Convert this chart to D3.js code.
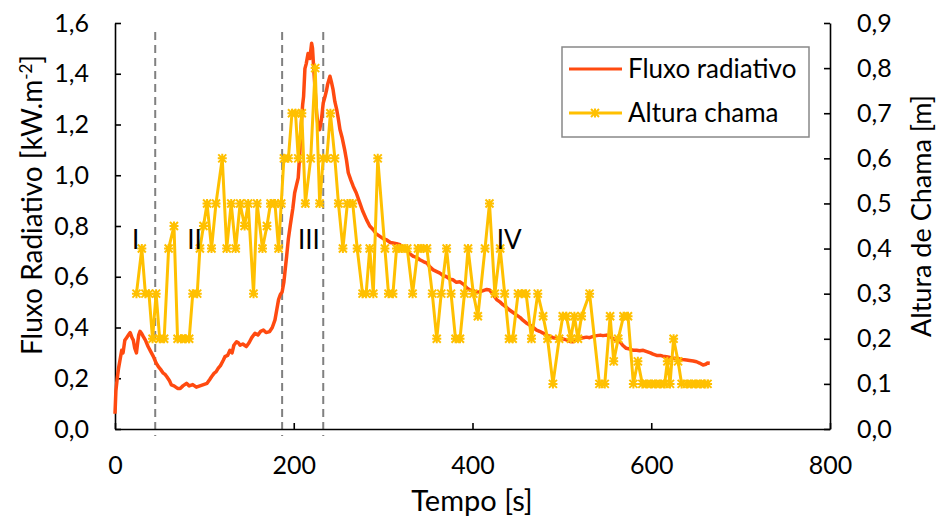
<!DOCTYPE html>
<html>
<head>
<meta charset="utf-8">
<title>Fluxo radiativo e altura de chama</title>
<script src="https://cdn.jsdelivr.net/npm/d3@7"></script>
<style>
  body { margin: 0; background: #fff; }
  svg text { font-family: Lato, "Open Sans", sans-serif; fill: #000; }
</style>
</head>
<body>
<svg id="chart" width="938" height="518"></svg>
<script>
// values: [tempo (s), valor]
const fluxoRadiativo = [
  [0,0.06],[1,0.15],[2.5,0.2],[4,0.24],[6,0.28],[7.5,0.31],[9,0.3],[11,0.35],[13,0.36],[15,0.37],
  [17,0.38],[19,0.36],[20.5,0.35],[22,0.32],[24,0.3],[25,0.33],[26.5,0.37],[28,0.385],[30,0.375],[31.7,0.364],
  [34,0.35],[37,0.325],[40,0.305],[43,0.285],[46,0.26],[48.5,0.246],[51,0.235],[54,0.22],[56,0.215],[58,0.206],
  [61,0.19],[63,0.174],[66,0.17],[70,0.16],[73,0.16],[76,0.17],[80,0.18],[83,0.17],[87,0.175],[91,0.165],
  [95,0.17],[99,0.175],[103,0.18],[106,0.195],[108,0.206],[111,0.22],[113,0.225],[115.6,0.24],[118,0.25],[121,0.27],
  [123,0.285],[126,0.29],[128.6,0.31],[131,0.3],[133,0.33],[136,0.344],[138,0.34],[140,0.33],[143,0.335],[147,0.325],
  [150,0.34],[153,0.36],[156.6,0.377],[160,0.37],[163,0.385],[166,0.39],[169,0.38],[173,0.384],[176,0.4],[179,0.43],
  [181,0.47],[183,0.51],[185,0.53],[187,0.54],[189,0.58],[190,0.614],[192,0.68],[194,0.75],[196,0.8],[197.6,0.837],
  [199,0.87],[201,0.93],[203,0.96],[205,0.99],[207,1.1],[208,1.18],[210,1.28],[211,1.31],[212.5,1.42],[214,1.44],
  [216,1.48],[218,1.46],[220,1.52],[221,1.5],[222,1.44],[224,1.33],[225.6,1.245],[227,1.2],[229,1.18],[231,1.22],
  [233,1.285],[235,1.31],[236.8,1.337],[238,1.36],[240.5,1.39],[242,1.37],[244,1.337],[246,1.29],[248,1.26],[250,1.22],
  [251.7,1.18],[254,1.15],[257,1.1],[259,1.06],[261,1.01],[264,0.98],[266.6,0.956],[270,0.93],[274,0.89],[277,0.86],
  [281.5,0.824],[285,0.8],[289,0.785],[292,0.77],[296,0.76],[300,0.75],[304,0.745],[308,0.735],[311,0.733],[315,0.73],
  [319,0.726],[323,0.715],[326,0.706],[330,0.69],[334,0.68],[338,0.675],[341,0.667],[345,0.66],[349,0.654],[352,0.64],
  [356,0.627],[360,0.62],[363.5,0.614],[367,0.605],[371,0.6],[375,0.59],[378,0.588],[382,0.578],[386,0.58],[390,0.57],
  [394,0.555],[397,0.548],[401,0.545],[404,0.54],[408,0.54],[412,0.545],[416,0.55],[419,0.548],[423,0.53],[427,0.51],
  [431,0.5],[434,0.49],[438,0.48],[441,0.47],[445,0.46],[449,0.45],[453,0.44],[456,0.43],[460.5,0.417],[464,0.41],
  [468,0.4],[471.7,0.39],[475,0.385],[479,0.378],[483,0.37],[487,0.365],[490,0.36],[494,0.358],[498,0.36],[501,0.355],
  [505,0.351],[509,0.345],[512.6,0.344],[516,0.35],[520,0.355],[524,0.36],[527.6,0.362],[531,0.36],[535,0.365],[539,0.368],
  [543,0.37],[546,0.368],[550,0.37],[554,0.364],[558,0.355],[561,0.351],[565,0.344],[568,0.33],[572,0.318],[576,0.315],
  [580,0.31],[583.6,0.31],[587,0.308],[591,0.31],[595,0.305],[599,0.3],[602,0.295],[606,0.29],[610,0.29],[613,0.287],
  [617,0.285],[621,0.282],[624,0.28],[628,0.279],[632,0.276],[635,0.274],[639.5,0.272],[643,0.27],[647,0.268],[650.7,0.265],
  [654,0.26],[658,0.252],[661,0.255],[663,0.26],[665.5,0.259]
];

const alturaChama = [
  [24,0.3],[30,0.4],[34,0.3],[38,0.3],[42,0.2],[46,0.3],[50,0.2],[55,0.2],[60,0.4],[66,0.45],
  [70,0.2],[74,0.2],[79,0.2],[83,0.2],[87,0.3],[92,0.3],[95,0.4],[99,0.45],[103,0.5],[108,0.4],
  [113,0.5],[120,0.6],[125,0.4],[130,0.5],[135,0.4],[140,0.5],[145,0.45],[149,0.5],[155,0.3],[159,0.5],
  [165,0.4],[170,0.45],[174,0.5],[179,0.5],[183,0.4],[186,0.5],[189,0.6],[194,0.6],[198,0.7],[202,0.7],
  [205,0.6],[209,0.7],[213,0.5],[219,0.6],[224,0.8],[229,0.5],[233,0.6],[237,0.6],[241,0.7],[246,0.6],
  [250,0.5],[255,0.4],[260,0.5],[266,0.5],[271,0.4],[277,0.3],[281,0.3],[285,0.4],[289,0.3],[294,0.6],
  [302,0.4],[306,0.3],[311,0.3],[315,0.4],[321,0.4],[327,0.4],[333,0.3],[339,0.4],[345,0.4],[349,0.4],
  [355,0.3],[360,0.2],[365,0.3],[371,0.4],[376,0.3],[381,0.2],[386,0.2],[391,0.3],[395,0.4],[401,0.3],
  [406,0.25],[414,0.4],[419,0.5],[425,0.3],[431,0.4],[436,0.3],[441,0.2],[445,0.2],[451,0.3],[455,0.3],
  [460,0.3],[466,0.2],[473,0.3],[479,0.25],[484,0.2],[490,0.1],[497,0.2],[501,0.25],[505,0.25],[510,0.2],
  [514,0.25],[518,0.2],[522,0.25],[531,0.3],[542,0.1],[548,0.1],[554,0.25],[558,0.15],[563,0.2],[569,0.25],
  [574,0.25],[580,0.1],[585,0.15],[590,0.1],[595,0.1],[600,0.1],[605,0.1],[610,0.1],[615,0.1],[618,0.15],
  [621,0.1],[625,0.2],[630,0.15],[634,0.1],[640,0.1],[645,0.1],[650,0.1],[655,0.1],[660,0.1],[663,0.1]
];

// phase boundaries (s) and phase labels
const limitesFase = [45, 187, 233];
const fases = ["I", "II", "III", "IV"];
const tempoFase = [23, 89, 217, 441];

const xTicks = [0, 200, 400, 600, 800];
const fluxoTicks = [0, 0.2, 0.4, 0.6, 0.8, 1.0, 1.2, 1.4, 1.6];
const alturaTicks = [0, 0.1, 0.2, 0.3, 0.4, 0.5, 0.6, 0.7, 0.8, 0.9];

const vermelho = "#ff4a10", amarelo = "#ffc000";

const svg = d3.select("#chart");
const plotLeft = 115, plotRight = 830, plotTop = 23, plotBottom = 429;

const x = d3.scaleLinear().domain([0, 800]).range([plotLeft, plotRight]);
const yFluxo = d3.scaleLinear().domain([0, 1.6]).range([plotBottom, plotTop]);
const yAltura = d3.scaleLinear().domain([0, 0.9]).range([plotBottom, plotTop]);
const virgula = f => s => d3.format(f)(s).replace(".", ",");

// dashed phase limits
svg.append("g")
  .selectAll("line")
  .data(limitesFase)
  .join("line")
    .attr("x1", d => x(d)).attr("x2", d => x(d))
    .attr("y1", yFluxo(1.565)).attr("y2", yFluxo(-0.028))
    .attr("stroke", "#808080")
    .attr("stroke-width", 2)
    .attr("stroke-dasharray", "8,5");

// axes
function estiloEixo(g) {
  g.selectAll("path, line").attr("stroke", "#000").attr("stroke-width", 1.6);
  g.selectAll("text").attr("font-size", 25).attr("font-family", "Lato");
}
svg.append("g")
  .attr("transform", `translate(0,${plotBottom})`)
  .call(d3.axisBottom(x).tickValues(xTicks).tickFormat(d3.format("d")).tickSize(-6).tickSizeOuter(0).tickPadding(27))
  .call(estiloEixo);
svg.append("g")
  .attr("transform", `translate(${plotLeft},0)`)
  .call(d3.axisLeft(yFluxo).tickValues(fluxoTicks).tickFormat(virgula(".1f")).tickSize(-6).tickSizeOuter(0).tickPadding(26))
  .call(estiloEixo);
svg.append("g")
  .attr("transform", `translate(${plotRight},0)`)
  .call(d3.axisRight(yAltura).tickValues(alturaTicks).tickFormat(virgula(".1f")).tickSize(-6).tickSizeOuter(0).tickPadding(27))
  .call(estiloEixo);

// axis titles
svg.append("text")
  .attr("x", 472).attr("y", 511)
  .attr("text-anchor", "middle").attr("font-size", 29)
  .text("Tempo [s]");
const tituloEsq = svg.append("text")
  .attr("transform", "translate(42,205) rotate(-90)")
  .attr("text-anchor", "middle").attr("font-size", 28);
tituloEsq.append("tspan").text("Fluxo Radiativo [kW.m");
tituloEsq.append("tspan").attr("dy", -10).attr("font-size", 17).text("-2");
tituloEsq.append("tspan").attr("dy", 10).text("]");
svg.append("text")
  .attr("transform", "translate(931,216) rotate(-90)")
  .attr("text-anchor", "middle").attr("font-size", 27)
  .text("Altura de Chama [m]");

// series
svg.append("path")
  .datum(fluxoRadiativo)
  .attr("fill", "none")
  .attr("stroke", vermelho)
  .attr("stroke-width", 3.5)
  .attr("stroke-linejoin", "round")
  .attr("d", d3.line().x(d => x(d[0])).y(d => yFluxo(d[1])));

svg.append("path")
  .datum(alturaChama)
  .attr("fill", "none")
  .attr("stroke", amarelo)
  .attr("stroke-width", 3)
  .attr("d", d3.line().x(d => x(d[0])).y(d => yAltura(d[1])));

const estrela = "M-4,-4L4,4M-4,4L4,-4M0,-4.5L0,4.5M-4.5,0L4.5,0";
svg.append("g")
  .selectAll("path")
  .data(alturaChama)
  .join("path")
    .attr("transform", d => `translate(${x(d[0])},${yAltura(d[1])})`)
    .attr("d", estrela)
    .attr("fill", "none")
    .attr("stroke", amarelo)
    .attr("stroke-width", 2);

// phase labels
svg.append("g")
  .selectAll("text")
  .data(fases)
  .join("text")
    .attr("x", (d, i) => x(tempoFase[i]))
    .attr("y", yFluxo(0.745))
    .attr("dy", "0.36em")
    .attr("text-anchor", "middle")
    .attr("font-size", 26)
    .text(d => d);

// legend
const legenda = svg.append("g").attr("transform", "translate(562,47)");
legenda.append("rect")
  .attr("width", 247).attr("height", 90)
  .attr("fill", "#fff").attr("stroke", "#888").attr("stroke-width", 1.5);
legenda.append("line")
  .attr("x1", 7).attr("x2", 60).attr("y1", 22).attr("y2", 22)
  .attr("stroke", vermelho).attr("stroke-width", 3);
legenda.append("line")
  .attr("x1", 7).attr("x2", 60).attr("y1", 66).attr("y2", 66)
  .attr("stroke", amarelo).attr("stroke-width", 3);
legenda.append("path")
  .attr("transform", "translate(33,66)")
  .attr("d", estrela).attr("fill", "none")
  .attr("stroke", amarelo).attr("stroke-width", 2);
legenda.append("text").attr("x", 66).attr("y", 22).attr("dy", "0.35em")
  .attr("font-size", 26).text("Fluxo radiativo");
legenda.append("text").attr("x", 66).attr("y", 66).attr("dy", "0.35em")
  .attr("font-size", 26).text("Altura chama");
</script>
</body>
</html>
